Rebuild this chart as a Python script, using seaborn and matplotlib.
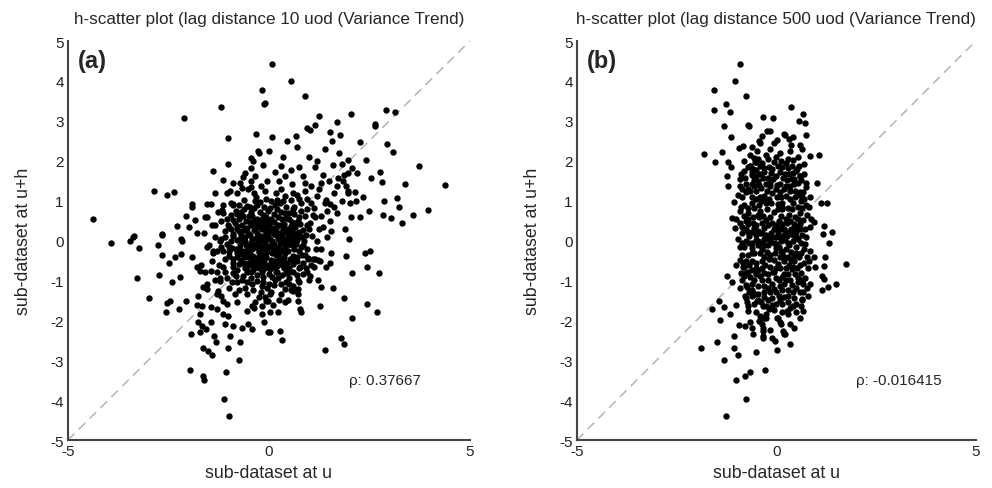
import numpy as np
import matplotlib.pyplot as plt
import pandas as pd
import seaborn as sns

# ---- panel (a): lag distance 10 ----
a_outer = [
    (-0.18, 3.78), (-0.12, 3.42), (-1.19, 3.35), (-2.10, 3.06), (-1.02, 2.56), (-0.33, 2.68),
    (-0.26, 2.24), (-0.45, 2.08), (-1.02, 1.92), (-1.40, 1.75), (-0.45, 1.81), (-0.64, 1.59),
    (-1.14, 1.52), (-0.44, 1.50), (-0.97, 1.25), (-0.68, 1.31), (-0.90, 0.91), (-2.86, 1.24),
    (-2.53, 1.15), (-2.36, 1.22), (-1.92, 0.91), (-1.91, 0.83), (-1.43, 0.91), (-1.16, 0.76),
    (-4.37, 0.54), (-2.05, 0.61), (-1.83, 0.52), (-1.55, 0.58), (-3.36, 0.11), (-2.67, 0.15),
    (-2.28, 0.36), (-1.98, 0.33), (-1.41, 0.40), (-0.22, 0.96), (-0.37, 1.20),
    (0.07, 4.43), (0.56, 3.99), (0.90, 3.63), (-0.10, 3.45), (2.91, 3.28), (3.13, 3.21),
    (2.04, 3.16), (1.25, 3.11), (1.69, 2.98), (2.64, 2.92), (2.65, 2.86), (1.14, 2.90),
    (0.94, 2.81), (1.02, 2.77), (0.07, 2.59), (0.67, 2.61), (1.53, 2.73), (1.78, 2.64),
    (1.56, 2.50), (2.26, 2.48), (2.95, 2.42), (3.08, 2.21), (2.43, 2.02), (3.73, 1.87),
    (4.38, 1.40), (3.38, 1.42), (2.76, 1.71), (2.55, 1.58), (2.82, 1.47), (3.18, 1.07),
    (2.87, 1.00), (3.24, 0.83), (3.95, 0.77), (3.60, 0.65), (2.84, 0.65), (3.03, 0.56),
    (3.31, 0.44), (2.49, 0.75), (2.26, 0.60), (1.98, 1.18), (2.15, 1.22), (2.01, 0.93),
    (2.18, 0.99), (1.81, 0.99), (1.52, 0.91), (1.61, 0.83), (1.43, 1.01), (1.93, 1.38),
    (1.98, 1.23), (1.69, 1.37), (1.72, 1.58), (1.81, 1.92), (1.98, 2.03), (1.98, 1.70),
    (2.07, 1.83), (1.86, 1.65),
    (-3.93, -0.07), (-3.46, -0.02), (-3.38, 0.08), (-3.23, -0.18), (-2.77, -0.12), (-2.67, -0.36),
    (-2.49, -0.56), (-2.34, -0.42), (-2.19, -0.34), (-2.19, 0.05), (-2.15, -0.02), (-2.67, 0.16),
    (-3.29, -0.95), (-2.74, -0.86), (-2.40, -1.05), (-2.21, -0.91), (-2.98, -1.44), (-2.54, -1.57),
    (-2.46, -1.51), (-2.56, -1.78), (-2.24, -1.72), (-2.05, -1.51), (-1.94, -2.34), (-1.72, -2.30),
    (-1.63, -2.69), (-1.51, -2.78), (-1.42, -2.87), (-1.97, -3.24), (-1.63, -3.39), (-1.61, -3.49),
    (-1.07, -3.30), (-0.74, -2.99), (-0.72, -2.55), (-1.01, -2.68), (-0.97, -2.40), (-1.12, -3.96),
    (-1.00, -4.39), (-1.32, -2.53), (-1.37, -2.39), (-1.77, -2.03), (-1.67, -2.15), (-1.57, -2.22),
    (-1.72, -1.84), (-1.45, -2.03), (-1.08, -2.09), (-0.89, -2.13), (-0.68, -2.18), (-0.41, -2.22),
    (-0.53, -2.09), (-0.12, -2.05), (-0.18, -1.84), (-0.02, -2.30), (-1.77, -1.40), (-1.80, -1.61),
    (-1.67, -1.63), (-1.63, -1.17), (-1.55, -1.22), (-1.80, -0.67), (-1.72, -0.76), (-1.92, -0.42),
    (-1.55, -0.16), (-1.39, -0.26), (-1.22, 0.00), (-1.43, -1.66), (-1.30, -1.72), (-1.19, -1.38),
    (-1.14, -1.51), (-1.05, -1.59), (-1.14, -1.84), (-1.01, -1.88), (-1.26, -1.26), (-1.22, -1.01),
    (-1.43, -0.76), (-1.30, -0.80), (-0.55, -1.76), (-0.43, -1.63), (-0.35, -1.55), (-0.18, -1.63),
    (-0.06, -1.51), (0.02, -1.34),
    (1.99, 0.04), (2.39, -0.30), (2.52, -0.26), (1.91, -0.39), (2.45, -0.65), (2.74, -0.81),
    (2.06, -0.81), (1.52, -0.55), (1.43, -0.67), (0.98, -0.46), (1.14, -0.46), (1.23, -0.49),
    (1.13, -0.67), (0.94, -0.80), (1.02, -0.88), (1.23, -0.99), (1.31, -1.17), (1.60, -1.20),
    (1.87, -1.44), (1.27, -1.65), (2.44, -1.59), (2.70, -1.78), (2.07, -1.95), (1.79, -2.45),
    (1.87, -2.58), (1.41, -2.74), (0.73, -1.34), (0.73, -1.52), (0.77, -1.72), (0.81, -1.80),
    (0.40, -1.55), (0.23, -1.80), (0.02, -1.78), (0.02, -2.29), (0.27, -2.26), (0.33, -2.49),
    (0.73, -1.22), (0.60, -1.26), (-0.10, -1.42), (-0.02, -1.51),
]

# dense middle of panel (a), estimated
a_core = [
    (0.02, 0.03), (-0.12, 0.11), (0.14, -0.08), (-0.21, -0.14), (0.27, 0.19), (-0.33, 0.07),
    (0.08, 0.31), (-0.05, -0.29), (0.36, -0.03), (-0.41, -0.22), (0.19, -0.37), (-0.17, 0.42),
    (0.44, 0.28), (-0.28, 0.33), (0.31, -0.24), (-0.47, 0.13), (0.05, -0.48), (0.12, 0.47),
    (-0.36, -0.41), (0.48, 0.09), (-0.08, 0.21), (0.22, 0.04), (-0.25, -0.02), (0.01, -0.17),
    (-0.14, -0.36), (0.38, 0.41), (-0.44, 0.38), (0.26, -0.44), (-0.02, 0.38), (0.41, -0.31),
    (0.55, 0.12), (0.62, -0.21), (0.58, 0.47), (0.71, 0.02), (0.66, 0.33), (0.52, -0.45),
    (0.79, -0.15), (0.74, 0.58), (0.85, 0.26), (0.49, 0.68), (0.30, 0.72), (0.12, 0.66),
    (-0.07, 0.59), (-0.23, 0.71), (-0.41, 0.61), (-0.56, 0.49), (-0.62, 0.26), (-0.71, 0.05),
    (-0.58, -0.12), (-0.66, -0.34), (-0.53, -0.55), (-0.35, -0.67), (-0.16, -0.61), (0.03, -0.72),
    (0.21, -0.63), (0.38, -0.70), (0.60, -0.58), (-0.78, 0.37), (-0.82, -0.21), (-0.12, 0.84),
    (0.15, 0.88), (0.43, 0.85), (-0.48, 0.83), (-0.74, -0.58), (-0.29, -0.86), (0.09, -0.91),
    (0.33, -0.87), (0.69, -0.41), (0.88, -0.02), (-0.88, 0.11), (-0.45, -0.05), (0.57, -0.02),
    (-0.69, 0.71), (0.79, 0.73),
    (1.02, 0.45), (1.12, 0.82), (0.96, 1.05), (1.25, 0.30), (1.08, 0.12), (1.18, -0.22),
    (0.98, -0.44), (1.31, 0.62), (0.70, 1.14), (0.41, 1.12), (0.18, 1.20), (-0.08, 1.05),
    (-0.33, 1.10), (-0.62, 1.02), (-0.90, 0.88), (-1.03, 0.55), (-1.10, 0.24), (-1.05, -0.08),
    (-0.98, -0.39), (-1.14, -0.66), (-0.88, -0.82), (-0.67, -1.00), (-0.43, -1.08), (-0.18, -1.15),
    (0.14, -1.12), (0.42, -1.04), (0.71, -0.86), (0.92, -0.70), (1.40, 0.95), (1.45, 0.08),
    (1.52, 0.48), (1.05, 1.38), (0.58, 1.42), (0.25, 1.50), (-0.20, 1.37), (-0.52, 1.30),
    (-1.27, 0.72), (-1.35, 0.38), (-1.30, -0.25), (-1.42, -0.50), (-1.22, -0.95), (-0.98, -1.20),
    (-0.55, -1.35), (-0.25, -1.42), (0.05, -1.30), (0.30, -1.35), (0.60, -1.15), (1.28, -0.50),
    (1.20, 1.12), (0.85, 1.62), (1.30, 1.45), (1.62, 1.20), (1.70, 0.70), (0.55, 1.78),
    (0.15, 1.72), (-0.35, 1.62), (-0.72, 1.45), (-1.05, 1.18), (-1.55, 0.92), (-1.62, 0.20),
    (-1.50, -0.10), (-1.70, -0.62), (-1.55, -1.10), (-1.28, -1.33), (-0.80, -1.55), (-0.38, -1.70),
    (0.10, -1.62), (0.48, -1.50), (1.00, -1.00), (1.55, -0.30),
    (1.85, 1.50), (2.05, 0.60), (1.75, 2.20), (1.40, 2.30), (1.00, 2.10), (0.70, 2.35),
    (0.35, 2.10), (0.00, 2.25), (-0.40, 2.00), (1.90, 0.30), (2.20, 1.70), (2.35, 1.10),
    (1.60, 1.90), (1.15, 1.85), (0.45, 2.50), (-0.15, 1.90), (0.80, 0.95), (1.35, 1.65),
    (-0.10, -0.05), (0.18, 0.15), (-0.30, 0.20), (0.10, -0.25), (-0.20, -0.50), (0.32, 0.55),
    (-0.52, -0.30), (0.45, -0.12), (-0.38, 0.50), (0.05, 0.55), (-0.60, 0.10), (0.25, -0.55),
    (-0.90, -0.55), (-0.75, 0.55), (0.62, 0.85), (-0.45, -0.80), (0.85, -0.55), (-1.20, 0.05),
    # solid blob, filled in
    (-0.55, 0.86), (-0.30, 0.90), (0.02, 0.81), (0.28, 0.93), (0.60, 0.80),
    (-0.80, 0.66), (-0.62, 0.78), (-0.45, 0.72), (-0.02, 0.74), (0.20, 0.78), (0.40, 0.70),
    (0.62, 0.66), (0.90, 0.62),
    (-0.90, 0.52), (-0.72, 0.58), (-0.50, 0.62), (-0.30, 0.55), (-0.15, 0.64), (0.22, 0.60),
    (0.42, 0.56), (0.72, 0.48), (0.95, 0.40),
    (-0.85, 0.44), (-0.67, 0.40), (-0.48, 0.46), (-0.28, 0.45), (-0.08, 0.48), (0.22, 0.38),
    (0.55, 0.37), (0.78, 0.42),
    (-0.95, 0.28), (-0.75, 0.25), (-0.55, 0.32), (-0.38, 0.27), (-0.18, 0.30), (0.00, 0.24),
    (0.18, 0.32), (0.36, 0.20), (0.56, 0.25), (0.75, 0.22), (0.92, 0.15),
    (-0.88, 0.17), (-0.70, 0.15), (-0.52, 0.20), (-0.42, 0.05), (-0.20, 0.12), (-0.02, 0.14),
    (0.12, 0.17), (0.32, 0.10), (0.48, 0.20), (0.66, 0.12), (0.82, 0.08),
    (-0.95, -0.02), (-0.78, 0.02), (-0.60, -0.02), (-0.35, -0.08), (-0.18, 0.02), (0.08, -0.02),
    (0.28, -0.08), (0.45, 0.02), (0.68, -0.08), (0.78, 0.12),
    (-0.92, -0.18), (-0.72, -0.12), (-0.48, -0.15), (-0.30, -0.18), (-0.10, -0.15), (0.05, -0.10),
    (0.22, -0.18), (0.40, -0.15), (0.58, -0.12), (0.75, -0.25),
    (-0.98, -0.28), (-0.78, -0.32), (-0.60, -0.25), (-0.45, -0.35), (-0.25, -0.28), (-0.08, -0.40),
    (0.08, -0.32), (0.25, -0.30), (0.48, -0.25), (0.60, -0.38), (0.82, -0.35),
    (-0.88, -0.45), (-0.70, -0.48), (-0.50, -0.42), (-0.30, -0.50), (-0.12, -0.48), (0.12, -0.50),
    (0.35, -0.45), (0.45, -0.55), (0.70, -0.52),
    (-0.90, -0.65), (-0.60, -0.68), (-0.42, -0.60), (-0.25, -0.68), (-0.05, -0.62), (0.12, -0.66),
    (0.30, -0.58), (0.50, -0.68), (0.78, -0.65),
    (-0.78, -0.75), (-0.55, -0.80), (-0.40, -0.75), (-0.18, -0.78), (0.00, -0.85), (0.18, -0.78),
    (0.42, -0.82), (0.60, -0.78),
    (-0.65, -0.88), (-0.45, -0.95), (-0.15, -0.92), (0.22, -0.95), (0.50, -0.95), (0.75, -1.05),
    (-0.80, -1.05), (-0.30, -1.02), (0.00, -1.08), (0.30, -1.10), (0.55, -1.25),
    (-1.20, 0.50), (-1.15, 0.90), (-0.80, 1.20), (-0.45, 1.35), (-0.10, 1.25), (0.30, 1.30),
    (0.60, 1.20), (0.90, 1.25), (1.15, 0.60), (1.20, 0.00), (1.10, -0.45), (0.85, -0.85),
    (0.40, -1.22), (-0.05, -1.20), (-0.40, -1.25), (-0.75, -1.25), (-1.05, -0.95), (-1.25, -0.60),
    (-1.20, -0.15), (-1.35, 0.10), (0.95, 0.78), (-0.95, 0.65), (1.35, 0.35), (0.20, 1.02),
    (-0.60, -1.18), (-1.00, 0.35),
    (-0.95, 0.95), (-0.75, 0.90), (-0.35, 0.98), (0.05, 0.98), (0.35, 1.00), (0.55, 1.02),
    (0.75, 1.05), (1.05, 0.95), (1.10, 0.65), (1.00, 0.28), (0.95, -0.20), (0.90, -0.35),
    (1.05, -0.62), (0.72, -1.00), (0.50, -1.10), (0.15, -1.00), (-0.15, -1.05), (-0.55, -1.05),
    (-0.92, -1.05), (-1.10, -0.80), (-1.10, -0.45), (-1.15, -0.25), (-1.08, 0.10), (-1.02, 0.40),
    (-1.15, 0.70), (-0.82, 0.75),
    (-0.65, 0.62), (-0.38, 0.82), (-0.20, 0.52), (0.00, 0.45), (0.30, 0.38), (0.50, 0.55),
    (0.68, 0.45), (-0.80, 0.30), (-0.62, 0.00), (-0.50, -0.22), (-0.72, -0.22), (-0.35, 0.38),
    (-0.10, 0.32), (0.15, 0.22), (0.35, 0.30), (0.62, 0.05), (0.85, -0.12), (0.50, -0.05),
    (0.20, -0.25), (-0.05, 0.05), (-0.25, 0.10), (-0.15, -0.22), (0.12, -0.15), (0.38, -0.40),
    (0.60, -0.50), (0.35, -0.60), (0.05, -0.58), (-0.25, -0.40), (-0.42, -0.50), (-0.60, -0.42),
    (-0.80, -0.40), (-0.65, -0.55), (-0.30, -0.62), (-0.10, -0.70), (0.20, -0.80), (0.50, -0.80),
    (-0.55, -0.65), (-0.82, -0.90), (-1.00, -0.15), (0.65, 0.20),
    (-1.35, 1.20), (-1.60, 0.60), (-1.80, 0.20), (-1.40, -0.30), (-1.60, -0.80), (-1.35, -1.00),
    (-0.85, -1.35), (-0.20, -1.30), (0.25, -1.50), (0.75, -0.70), (1.30, -0.20), (1.55, 0.25),
    (1.45, 0.75), (1.25, 1.30), (0.90, 1.45), (0.40, 1.62), (-0.05, 1.50), (-0.60, 1.70),
    (-0.90, 1.45), (-0.25, 2.20), (0.30, 1.88), (0.75, 1.85), (1.50, 1.50), (1.20, 2.00),
]

# ---- panel (b): lag distance 500 ----
b_outer = [
    (-0.92, 4.43), (-1.03, 3.99), (-1.56, 3.78), (-0.75, 3.63), (-1.55, 3.27), (-1.26, 3.43),
    (-1.16, 3.21), (-0.32, 3.10), (-1.32, 2.88), (-0.72, 2.90), (-0.68, 2.86), (-0.23, 2.75),
    (-1.14, 2.59), (-0.83, 2.38), (-0.94, 2.31), (-0.44, 2.50), (-1.80, 2.18), (-1.36, 2.21),
    (-1.53, 1.96), (-1.20, 1.98), (-1.13, 1.85), (-0.48, 2.25), (-0.55, 2.06), (-0.54, 1.96),
    (-0.67, 1.87), (-0.58, 1.79), (-1.24, 1.62), (-1.20, 1.37), (-1.07, 0.96), (-1.11, 0.56),
    (-1.03, 0.31),
    (0.37, 3.34), (0.68, 3.17), (-0.08, 3.06), (0.56, 2.99), (0.71, 2.94), (-0.15, 2.75),
    (0.75, 2.64), (0.23, 2.64), (0.31, 2.54), (0.43, 2.59), (0.64, 2.29), (1.06, 2.15),
    (0.84, 2.13), (1.02, 1.44), (1.13, 0.93), (1.27, 0.94), (0.94, 0.46), (1.19, 0.37),
    (1.40, 0.21), (1.17, 0.16), (0.68, 1.21), (0.64, 1.08), (0.81, 0.83), (0.52, 1.79),
    (0.60, 1.62),
    (-1.88, -2.68), (-1.49, -2.55), (-1.32, -2.99), (-1.00, -3.49), (-0.79, -3.40), (-0.67, -3.30),
    (-0.28, -3.25), (-0.77, -3.96), (-1.25, -4.40), (-0.52, -2.79), (-1.05, -2.70), (-0.97, -2.87),
    (-1.05, -2.39), (-1.42, -1.98), (-1.15, -1.84), (-1.60, -1.71), (-1.44, -1.51), (-1.32, -1.66),
    (-1.01, -1.62), (-0.93, -2.11), (-0.79, -2.14), (-0.67, -2.05), (-0.59, -2.34), (-0.33, -2.38),
    (-0.42, -2.01), (-0.33, -2.18), (-0.40, -1.88), (-0.30, -1.95), (-0.71, -1.76), (-0.73, -1.55),
    (-1.24, -0.90), (-1.11, -1.03), (-0.83, -0.56), (-0.84, -0.67), (-0.69, -0.05), (-0.82, -0.88),
    (-0.73, -1.17), (-0.79, -1.38), (-0.53, -1.34), (-0.48, -1.51), (-0.32, -1.63), (-0.19, -1.72),
    (1.75, -0.58), (1.33, -0.06), (1.50, -1.09), (1.31, -1.17), (1.16, -1.23), (1.15, -0.88),
    (1.19, -0.96), (1.23, -0.42), (1.20, -0.63), (0.94, -0.42), (0.98, -0.67), (0.84, -1.09),
    (0.68, -1.30), (0.64, -1.47), (0.68, -1.76), (0.60, -1.93), (0.35, -2.09), (0.18, -2.26),
    (0.23, -2.33), (0.35, -2.58), (0.02, -2.74), (-0.03, -2.51), (-0.11, -2.45), (-0.32, -2.26),
    (-0.32, -2.43), (0.02, -1.93), (0.10, -2.05), (0.43, -1.63), (0.27, -1.76),
]

b_core = [
    (-0.35, 2.62), (-0.05, 2.45), (0.20, 2.68), (-0.60, 2.35), (0.10, 2.20), (0.38, 2.40),
    (-0.25, 2.15), (0.55, 2.10), (-0.45, 2.05), (0.02, 2.52), (0.30, 2.05), (-0.15, 2.30),
    (-0.90, 1.55), (-0.75, 1.42), (-0.60, 1.65), (-0.45, 1.50), (-0.30, 1.72), (-0.15, 1.45),
    (0.00, 1.62), (0.15, 1.85), (0.28, 1.52), (0.42, 1.70), (0.55, 1.45), (0.70, 1.92),
    (-0.35, 1.95), (-0.05, 1.98), (0.25, 1.95), (-0.65, 1.88), (-0.20, 1.58), (0.10, 1.42),
    (0.40, 1.88), (-0.82, 1.75), (-0.50, 1.78), (0.60, 1.62), (-0.10, 1.80), (0.32, 1.68),
    (-0.95, 1.15), (-0.80, 0.90), (-0.65, 1.25), (-0.50, 1.05), (-0.38, 1.32), (-0.25, 0.95),
    (-0.10, 1.20), (0.05, 0.92), (0.20, 1.30), (0.35, 1.05), (0.48, 1.25), (0.62, 0.98),
    (0.75, 1.35), (-0.70, 0.82), (-0.30, 1.12), (0.12, 1.10), (0.55, 0.85), (-0.55, 1.38),
    (0.30, 0.82), (-0.15, 1.36), (-0.85, 1.30), (0.85, 1.10), (0.00, 1.28), (-0.42, 0.88),
    (-1.00, 0.55), (-0.85, 0.35), (-0.70, 0.70), (-0.58, 0.45), (-0.45, 0.25), (-0.32, 0.62),
    (-0.20, 0.38), (-0.05, 0.72), (0.08, 0.50), (0.20, 0.28), (0.33, 0.65), (0.45, 0.42),
    (0.60, 0.70), (0.72, 0.30), (0.88, 0.55), (-0.62, 0.22), (-0.12, 0.20), (0.15, 0.78),
    (0.50, 0.22), (-0.40, 0.75), (-0.90, 0.75), (0.02, 0.32), (0.28, 0.45), (-0.25, 0.52),
    (0.68, 0.52), (-0.75, 0.50),
    (-0.95, 0.05), (-0.80, -0.15), (-0.68, 0.12), (-0.55, -0.30), (-0.45, 0.00), (-0.35, -0.20),
    (-0.25, 0.15), (-0.15, -0.35), (-0.05, -0.05), (0.05, 0.18), (0.12, -0.25), (0.22, 0.02),
    (0.32, -0.12), (0.42, 0.15), (0.50, -0.32), (0.62, -0.05), (0.75, 0.10), (0.85, -0.25),
    (-0.60, -0.05), (-0.30, 0.05), (0.00, -0.18), (0.18, -0.38), (0.38, -0.28), (-0.20, -0.12),
    (0.28, 0.12), (-0.40, 0.18), (-0.72, -0.35), (0.55, 0.05), (0.10, 0.08), (-0.10, 0.10),
    (-1.00, -0.60), (-0.88, -0.82), (-0.75, -0.50), (-0.62, -0.75), (-0.50, -0.55), (-0.40, -0.90),
    (-0.28, -0.62), (-0.18, -0.45), (-0.08, -0.80), (0.04, -0.58), (0.15, -0.92), (0.25, -0.68),
    (0.36, -0.48), (0.48, -0.85), (0.60, -0.62), (0.72, -0.95), (0.82, -0.50), (-0.55, -0.98),
    (-0.20, -0.98), (0.10, -0.42), (0.40, -0.72), (-0.35, -0.70), (0.58, -0.42), (-0.68, -0.62),
    (0.00, -0.95),
    (-0.90, -1.20), (-0.75, -1.45), (-0.60, -1.10), (-0.45, -1.35), (-0.30, -1.15), (-0.20, -1.50),
    (-0.05, -1.22), (0.08, -1.40), (0.20, -1.10), (0.30, -1.55), (0.42, -1.28), (0.55, -1.05),
    (0.65, -1.48), (0.78, -1.20), (-0.55, -1.58), (0.00, -1.58), (0.35, -1.00), (-0.15, -1.30),
    (0.50, -1.60), (-0.38, -1.55), (0.15, -1.25),
    (-0.50, -1.80), (-0.25, -1.95), (-0.05, -1.75), (0.12, -2.10), (0.30, -1.85), (0.45, -2.20),
    (-0.15, -2.25), (0.20, -2.35), (-0.60, -2.20), (0.50, -1.80), (-0.35, -2.10), (0.05, -1.95),
    # dark band, filled in
    (-0.50, 1.98), (-0.20, 2.05), (0.12, 2.00), (0.42, 2.02),
    (-0.72, 1.85), (-0.40, 1.88), (-0.18, 1.84), (0.05, 1.88), (0.30, 1.82), (0.58, 1.86),
    (-0.88, 1.68), (-0.62, 1.72), (-0.40, 1.66), (-0.12, 1.70), (0.10, 1.72), (0.22, 1.66),
    (0.50, 1.74), (0.70, 1.68),
    (-0.78, 1.58), (-0.55, 1.52), (-0.32, 1.58), (-0.08, 1.55), (0.18, 1.58), (0.40, 1.55),
    (0.62, 1.52),
    (-0.92, 1.38), (-0.62, 1.42), (-0.42, 1.40), (-0.25, 1.42), (0.02, 1.40), (0.25, 1.38),
    (0.45, 1.42), (0.75, 1.45),
    (-0.75, 1.22), (-0.50, 1.25), (-0.22, 1.25), (0.10, 1.22), (0.35, 1.25), (0.60, 1.22),
    (-0.85, 1.08), (-0.62, 1.10), (-0.40, 1.08), (-0.18, 1.05), (0.02, 1.08), (0.25, 1.12),
    (0.48, 1.08), (0.70, 1.05),
    (-0.60, 0.95), (-0.38, 0.98), (-0.12, 0.95), (0.15, 0.95), (0.42, 0.95), (0.75, 0.90),
    (-0.88, 0.85), (-0.55, 0.82), (-0.22, 0.80), (0.05, 0.78), (0.40, 0.80), (0.65, 0.82),
    (-0.82, 0.62), (-0.58, 0.60), (-0.42, 0.58), (-0.15, 0.60), (0.12, 0.62), (0.48, 0.60),
    (0.78, 0.65),
    (-0.92, 0.45), (-0.70, 0.42), (-0.35, 0.45), (-0.10, 0.45), (0.15, 0.42), (0.35, 0.48),
    (0.60, 0.42),
    (-0.75, 0.30), (-0.55, 0.32), (-0.30, 0.32), (-0.05, 0.28), (0.12, 0.30), (0.38, 0.30),
    (0.60, 0.30), (0.85, 0.35),
    (-0.85, 0.18), (-0.50, 0.15), (-0.20, 0.05), (0.00, 0.10), (0.20, 0.15), (0.35, 0.18),
    (0.65, 0.15),
    (-0.75, 0.00), (-0.52, 0.02), (-0.15, 0.00), (0.12, -0.02), (0.42, -0.02), (0.72, -0.08),
    (-0.90, -0.15), (-0.62, -0.18), (-0.45, -0.12), (-0.28, -0.10), (0.08, -0.15), (0.25, -0.20),
    (0.50, -0.15), (0.70, -0.20),
    (-0.85, -0.35), (-0.40, -0.32), (-0.22, -0.28), (-0.02, -0.32), (0.30, -0.40), (0.62, -0.30),
    (0.78, -0.40),
    (-0.90, -0.48), (-0.62, -0.50), (-0.35, -0.52), (-0.05, -0.48), (0.20, -0.52), (0.45, -0.50),
    (0.70, -0.55),
    (-0.80, -0.65), (-0.50, -0.70), (-0.15, -0.65), (0.10, -0.70), (0.32, -0.62), (0.52, -0.70),
    (0.80, -0.70),
    (-0.75, -0.82), (-0.30, -0.82), (-0.05, -0.80), (0.30, -0.85), (0.62, -0.82),
    (-0.85, -0.98), (-0.65, -0.92), (-0.35, -1.00), (0.08, -1.00), (0.25, -0.98), (0.55, -0.95),
    (-0.75, -1.12), (-0.45, -1.15), (-0.10, -1.10), (0.10, -1.15), (0.40, -1.12), (0.68, -1.10),
    (-0.68, -1.28), (-0.30, -1.28), (0.30, -1.25), (0.60, -1.30),
    (-0.62, -1.40), (-0.30, -1.42), (-0.10, -1.45), (0.20, -1.42), (0.45, -1.45), (0.80, -1.38),
    (-0.70, -1.65), (-0.25, -1.65), (0.15, -1.60), (0.35, -1.70),
    (-0.80, 2.00), (-0.30, 1.82), (0.45, 1.55), (-0.50, 1.62), (0.35, 1.38), (-0.70, 1.30),
    (-0.30, 1.02), (0.55, 1.15), (0.15, 0.85), (-0.70, 0.55), (-0.45, 0.65), (0.25, 0.55),
    (0.55, 0.55), (-0.50, 0.40), (0.00, 0.40), (0.50, 0.35), (-0.70, 0.22), (-0.35, 0.20),
    (0.25, 0.22), (0.50, 0.10), (-0.85, -0.05), (-0.35, -0.05), (0.00, -0.08), (0.30, -0.05),
    (-0.60, -0.30), (-0.30, -0.42), (0.15, -0.30), (0.45, -0.38), (-0.70, -0.78), (-0.45, -0.75),
    (0.00, -0.68), (0.42, -0.65), (0.20, -0.85), (-0.50, -0.85), (-0.20, -0.85), (0.65, -1.00),
    (-0.60, -1.25), (-0.20, -1.20), (0.00, -1.30), (0.50, -1.20), (-0.45, -1.48), (0.10, -1.50),
    (0.62, -1.65), (-0.10, -1.62), (0.30, -1.40), (-0.25, -1.85), (0.15, -1.80), (-0.40, 2.45),
    (0.35, 2.25), (0.00, 2.10), (-0.65, 2.15), (0.60, 2.40),
]

titles = ["h-scatter plot (lag distance 10 uod (Variance Trend)",
          "h-scatter plot (lag distance 500 uod (Variance Trend)"]
tags = ["(a)", "(b)"]
rho_labels = ["\u03c1: 0.37667", "\u03c1: -0.016415"]

sns.set_theme(style="white")
plt.rcParams['font.family'] = ['Liberation Sans', 'DejaVu Sans']
plt.rcParams['axes.unicode_minus'] = False

df_a = pd.DataFrame(a_outer + a_core, columns=["u", "uh"])
df_b = pd.DataFrame(b_outer + b_core, columns=["u", "uh"])

fig = plt.figure(figsize=(9.92, 4.89), dpi=100)
ax_a = fig.add_axes([0.0685, 0.098, 0.405, 0.816])
ax_b = fig.add_axes([0.5815, 0.098, 0.402, 0.816])

for ax, df, title, tag, rho in zip([ax_a, ax_b], [df_a, df_b], titles, tags, rho_labels):
    ax.plot([-5, 5], [-5, 5], color='#b4b4b4', linestyle=(0, (6, 4)), linewidth=1.1, zorder=1)
    sns.scatterplot(data=df, x="u", y="uh", ax=ax, color='black', s=21, linewidth=0, zorder=2)
    ax.set_xlim(-5, 5)
    ax.set_ylim(-5, 5)
    ax.set_xticks([-5, 0, 5])
    ax.set_yticks(np.arange(-5, 6))
    ax.tick_params(direction='in', length=4, width=1, colors='#222222', labelsize=11, pad=3)
    for side in ['top', 'right']:
        ax.spines[side].set_visible(False)
    for side in ['left', 'bottom']:
        ax.spines[side].set_color('#444444')
        ax.spines[side].set_linewidth(1.5)
    ax.set_xlabel("sub-dataset at u", fontsize=12.8, labelpad=4)
    ax.set_ylabel("sub-dataset at u+h", fontsize=12.8, labelpad=13)
    ax.set_title(title, fontsize=12.3, pad=13)
    ax.text(-4.75, 4.8, tag, fontsize=17, fontweight='bold', ha='left', va='top')
    ax.text(2.0, -3.5, rho, fontsize=11, ha='left', va='center')

fig.savefig("out.png", dpi=100)
